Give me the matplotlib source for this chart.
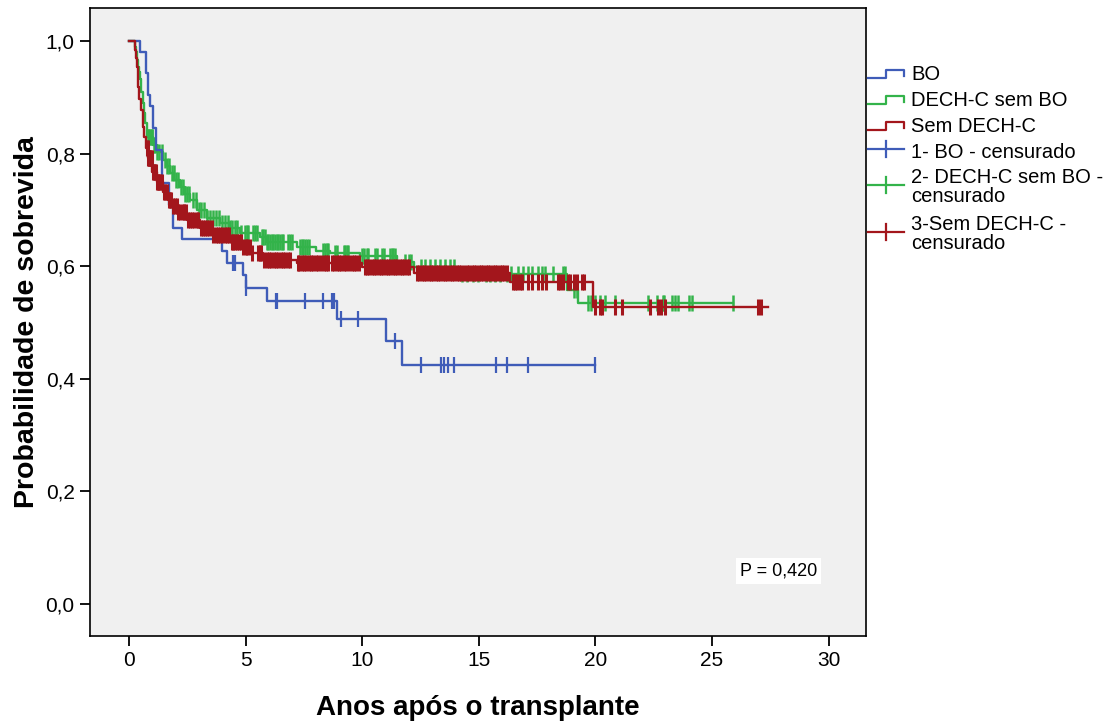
import matplotlib
matplotlib.use("Agg")
import matplotlib.pyplot as plt
import numpy as np

plt.rcParams['font.family'] = ['Liberation Sans', 'DejaVu Sans']

# ---- data ----
# step curves: event times (years) and survival after each event
bo_times = [0, 0.47, 0.73, 0.82, 0.90, 1.03, 1.16, 1.42, 1.72, 1.89, 2.27, 4.0, 4.2,
            4.9, 5.0, 5.9, 8.9, 11.0, 11.7]
bo_surv = [1.0, 0.981, 0.944, 0.905, 0.885, 0.846, 0.807, 0.748, 0.709, 0.668, 0.649,
           0.627, 0.605, 0.584, 0.562, 0.539, 0.507, 0.468, 0.425]
bo_end = 20.0
bo_cens = [4.46, 4.55, 5.0, 6.3, 6.35, 7.55, 8.3, 8.7, 8.8, 9.1, 9.8, 11.4, 12.5,
           13.4, 13.5, 13.7, 13.95, 15.75, 16.2, 17.1, 20.0]

dech_times = [0, 0.26, 0.30, 0.35, 0.39, 0.44, 0.47, 0.53, 0.60, 0.65, 0.69, 0.77,
              1.03, 1.2, 1.46, 1.6, 1.76, 1.95, 2.19, 2.4, 2.62, 2.92, 3.35, 3.9,
              4.3, 4.76, 5.6, 5.9, 7.2, 8.0, 8.6, 9.9, 11.5, 12.2, 14.1, 18.8, 19.27]
dech_surv = [1.0, 0.99, 0.98, 0.967, 0.955, 0.945, 0.932, 0.91, 0.891, 0.872, 0.855, 0.83,
             0.816, 0.803, 0.789, 0.778, 0.766, 0.753, 0.741, 0.729, 0.718, 0.70, 0.686, 0.677,
             0.668, 0.66, 0.652, 0.644, 0.635, 0.628, 0.624, 0.619, 0.608, 0.599, 0.587,
             0.558, 0.535]
dech_end = 25.9
dech_cens = [0.8, 0.84, 0.88, 0.93, 0.97, 1.0, 1.08, 1.12, 1.2, 1.3, 1.42, 1.55, 1.63, 1.72,
             1.85, 1.93, 2.02, 2.1, 2.22, 2.3, 2.42, 2.5, 2.58, 2.75, 2.88, 3.0, 3.1, 3.2,
             3.35, 3.48, 3.6, 3.72, 3.85, 3.98, 4.12, 4.25, 4.33, 4.41, 4.55, 4.62, 4.8,
             4.98, 5.05, 5.12, 5.33, 5.41, 5.48, 5.70, 5.76, 5.84, 5.91, 5.98, 6.05, 6.12,
             6.19, 6.27, 6.34, 6.41, 6.48, 6.55, 6.62, 6.84, 6.91, 6.98, 7.34, 7.41, 7.48,
             7.55, 7.63, 7.70, 8.34, 8.41, 8.48, 8.55, 8.84, 8.91, 9.20, 9.27, 9.34, 9.41,
             9.99, 10.06, 10.20, 10.27, 10.56, 10.63, 10.85, 10.92, 11.2, 11.27, 11.34,
             11.42, 11.85, 12.0, 12.1, 12.5, 12.7, 12.9, 13.1, 13.35, 13.55, 13.75, 13.95,
             14.3, 14.5, 14.75, 14.98, 15.3, 15.5, 15.7, 15.9, 16.2, 16.4, 16.7, 16.9, 17.1,
             17.3, 17.55, 17.7, 17.85, 18.2, 18.6, 18.7, 19.06, 19.23, 19.66, 19.79, 20.0,
             20.2, 20.43, 20.86, 22.27, 22.66, 22.88, 22.92, 23.3, 23.43, 23.56, 24.0,
             24.16, 25.88]

sem_times = [0, 0.26, 0.30, 0.34, 0.39, 0.45, 0.52, 0.6, 0.66, 0.73, 0.82, 0.99, 1.2,
             1.46, 1.67, 1.9, 2.1, 2.49, 3.05, 3.6, 4.33, 4.9, 5.2, 5.75, 7.2, 10.0, 12.2,
             16.35, 19.9]
sem_surv = [1.0, 0.985, 0.97, 0.955, 0.919, 0.898, 0.878, 0.848, 0.83, 0.811, 0.793, 0.768,
            0.75, 0.732, 0.718, 0.707, 0.697, 0.683, 0.668, 0.656, 0.644, 0.635, 0.624,
            0.612, 0.606, 0.598, 0.588, 0.572, 0.528]
sem_end = 27.4
sem_cens = [0.78, 0.8, 0.82, 0.85, 0.88, 0.92, 0.95, 0.98, 1.02, 1.06, 1.1, 1.15, 1.2, 1.25,
            1.3, 1.35, 1.42, 1.5, 1.56, 1.62, 1.7, 1.76, 1.82, 1.9, 1.97, 2.05, 2.12, 2.2,
            2.3, 2.38, 2.46, 2.55, 2.62, 2.7, 2.8, 2.9, 2.98, 3.08, 3.16, 3.25, 3.35, 3.45,
            3.55, 3.62, 3.72, 3.8, 3.9, 4.0, 4.1, 4.2, 4.3, 4.4, 4.48, 4.56, 4.64, 4.72,
            4.8, 4.9, 5.0, 5.08, 5.17, 5.26, 5.52, 5.6, 5.68, 5.8, 5.9, 6.0, 6.1, 6.2,
            6.3, 6.4, 6.5, 6.6, 6.7, 6.8, 6.9, 7.25, 7.3, 7.4, 7.5, 7.6, 7.7, 7.8, 7.9,
            8.0, 8.1, 8.25, 8.35, 8.45, 8.55, 8.7, 8.8, 8.9, 9.0, 9.1, 9.2, 9.3, 9.45,
            9.55, 9.65, 9.75, 9.85, 10.1, 10.2, 10.3, 10.4, 10.5, 10.6, 10.7, 10.8, 10.9,
            11.0, 11.1, 11.2, 11.3, 11.4, 11.5, 11.6, 11.7, 11.8, 11.9, 12.0, 12.35, 12.45,
            12.55, 12.65, 12.75, 12.85, 12.95, 13.05, 13.15, 13.25, 13.35, 13.45, 13.55,
            13.65, 13.75, 13.85, 13.95, 14.05, 14.15, 14.25, 14.35, 14.5, 14.6, 14.7, 14.8,
            14.9, 15.0, 15.1, 15.2, 15.3, 15.4, 15.5, 15.6, 15.7, 15.8, 15.9, 16.0, 16.1,
            16.2, 16.45, 16.55, 16.65, 16.75, 16.85, 17.1, 17.3, 17.55, 17.7, 17.9, 18.4,
            18.5, 18.6, 18.84, 18.9, 19.06, 19.23, 19.44, 19.5, 20.0, 20.2, 20.3, 20.86,
            21.16, 22.36, 22.7, 22.8, 23.0, 26.95, 27.08]

p_text = "P = 0,420"
xticks = [0, 5, 10, 15, 20, 25, 30]
yticks = [0.0, 0.2, 0.4, 0.6, 0.8, 1.0]

c_bo = "#3f5cb8"
c_dech = "#33b34a"
c_sem = "#a3161c"
bg = "#f0f0f0"


def step_line(times, surv, end):
    x = list(times) + [end]
    y = list(surv) + [surv[-1]]
    return x, y


def surv_at(times, surv, t):
    idx = np.searchsorted(np.array(times), np.array(t), side="right") - 1
    return np.array(surv)[idx]


# ---- figure ----
fig = plt.figure(figsize=(11.07, 7.24), dpi=100)
ax = fig.add_axes([90 / 1107, 1 - 636 / 724, 776 / 1107, 628 / 724])
ax.set_facecolor(bg)

curves = [
    (dech_times, dech_surv, dech_end, dech_cens, c_dech, 2, 1.8),
    (bo_times, bo_surv, bo_end, bo_cens, c_bo, 3, 1.6),
    (sem_times, sem_surv, sem_end, sem_cens, c_sem, 4, 2.2),
]
for times, surv, end, cens, col, z, mew in curves:
    x, y = step_line(times, surv, end)
    ax.step(x, y, where="post", color=col, lw=1.7, zorder=z)
    cy = surv_at(times, surv, cens)
    ax.plot(cens, cy, linestyle="none", marker="|", markersize=11, markeredgewidth=mew,
            color=col, zorder=z)

ax.set_xlim(-1.67, 31.6)
ax.set_ylim(-0.057, 1.059)
ax.set_xticks(xticks)
ax.set_yticks(yticks)
ax.set_yticklabels([("%.1f" % v).replace(".", ",") for v in yticks])
ax.tick_params(direction="out", length=7, width=1.3, labelsize=15, pad=4)
for s in ax.spines.values():
    s.set_linewidth(1.2)

ax.set_xlabel("Anos após o transplante", fontsize=20, fontweight="bold", labelpad=18)
ax.set_ylabel("Probabilidade de sobrevida", fontsize=20.5, fontweight="bold", labelpad=4)

ax.text(0.887, 0.1035, p_text, transform=ax.transAxes, ha="center", va="center",
        fontsize=13, bbox=dict(facecolor="white", edgecolor="none", pad=3), zorder=6)

# ---- legend, drawn in pixel coordinates ----
lg = fig.add_axes([866 / 1107, 0, 241 / 1107, 1])
lg.set_xlim(866, 1107)
lg.set_ylim(724, 0)
lg.axis("off")

step_rows = [(75, c_bo, "BO"), (101, c_dech, "DECH-C sem BO"), (127, c_sem, "Sem DECH-C")]
for yc, col, lab in step_rows:
    lg.plot([868, 886, 886, 904, 904], [yc + 3, yc + 3, yc - 5, yc - 5, yc + 1], color=col, lw=1.6)
    lg.text(911, yc, lab, fontsize=14.5, va="center", ha="left")

cens_rows = [(152, 149, c_bo, "1- BO - censurado"),
             (187, 185, c_dech, "2- DECH-C sem BO -\ncensurado"),
             (234, 232, c_sem, "3-Sem DECH-C -\ncensurado")]
for yt, yl, col, lab in cens_rows:
    lg.plot([868, 904], [yl, yl], color=col, lw=1.6)
    lg.plot([886, 886], [yl - 8, yl + 8], color=col, lw=1.6)
    lg.text(911, yt, lab, fontsize=14.5, va="center", ha="left", linespacing=0.95)

plt.savefig("out.png", dpi=100, facecolor="white")
